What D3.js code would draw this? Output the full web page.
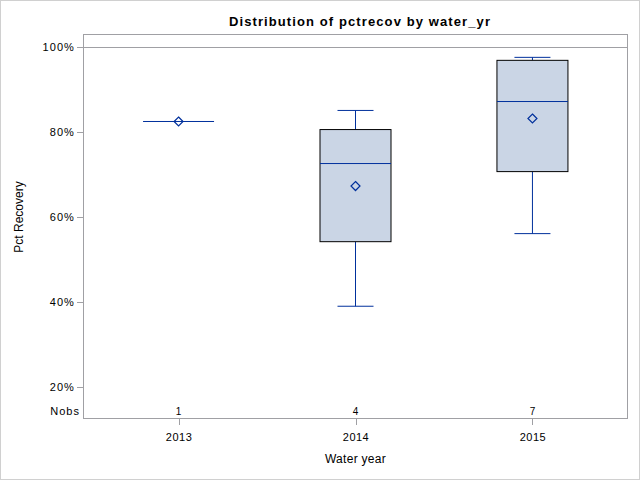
<!DOCTYPE html>
<html><head><meta charset="utf-8">
<script src="https://cdn.jsdelivr.net/npm/d3@7"></script>
<style>body{margin:0;background:#fff}svg{display:block;font-family:"Liberation Sans",Arial,sans-serif}</style>
</head><body>
<svg id="c" width="640" height="480"></svg>
<script>
const categories = ["2013","2014","2015"];
const nobs = [1,4,7];
const whiskerLow = [82.5,39.0,56.1];
const q1 = [82.5,54.2,70.7];
const median = [82.5,72.6,87.2];
const q3 = [82.5,80.6,96.9];
const whiskerHigh = [82.5,85.1,97.6];
const means = [82.5,67.3,83.2];
const yTicks = [20,40,60,80,100];
const refLine = 100;

const svg = d3.select("#c");
const W=640,H=480;
const L=83,R=628,T=34,B=419;
const blue="#00309C", fill="#CAD5E5", frame="#A0A0A4";

svg.append("rect").attr("x",0.5).attr("y",0.5).attr("width",W-1).attr("height",H-1)
  .attr("fill","#fff").attr("stroke","#D0D0D0");

const x = d3.scalePoint().domain(categories).range([L,R]).padding(0.54);
const y = d3.scaleLinear().domain([12.45,103.1]).range([B,T]);
const bw = 71, cw = 36;

// reference line
svg.append("line").attr("x1",L).attr("x2",R).attr("y1",y(refLine)).attr("y2",y(refLine))
  .attr("stroke",frame).attr("stroke-width",1).attr("shape-rendering","crispEdges");

// y axis
const ya = svg.append("g").attr("transform",`translate(${L},0)`)
  .call(d3.axisLeft(y).tickValues(yTicks).tickSize(6).tickPadding(2).tickFormat(d=>d+"%"));
ya.select(".domain").remove();
ya.selectAll("line").attr("stroke",frame).attr("shape-rendering","crispEdges");
ya.selectAll("text").attr("font-size",11).attr("fill","#000").attr("letter-spacing","1.1px")
  .attr("font-family","Liberation Sans, Arial, sans-serif");

// x axis
const xa = svg.append("g").attr("transform",`translate(0,${B})`)
  .call(d3.axisBottom(x).tickSize(6).tickPadding(8));
xa.select(".domain").remove();
xa.selectAll("line").attr("stroke",frame).attr("shape-rendering","crispEdges");
xa.selectAll("text").attr("font-size",11).attr("fill","#000").attr("letter-spacing","0.5px")
  .attr("font-family","Liberation Sans, Arial, sans-serif");

const g = svg.append("g");
categories.forEach((c,i)=>{
  const cx = x(c);
  if (nobs[i] > 1) {
    g.append("line").attr("x1",cx).attr("x2",cx).attr("y1",y(q3[i])).attr("y2",y(whiskerHigh[i])).attr("stroke",blue);
    g.append("line").attr("x1",cx).attr("x2",cx).attr("y1",y(q1[i])).attr("y2",y(whiskerLow[i])).attr("stroke",blue);
    g.append("line").attr("x1",cx-cw/2).attr("x2",cx+cw/2).attr("y1",y(whiskerHigh[i])).attr("y2",y(whiskerHigh[i])).attr("stroke",blue);
    g.append("line").attr("x1",cx-cw/2).attr("x2",cx+cw/2).attr("y1",y(whiskerLow[i])).attr("y2",y(whiskerLow[i])).attr("stroke",blue);
    g.append("rect").attr("x",cx-bw/2).attr("width",bw).attr("y",y(q3[i])).attr("height",y(q1[i])-y(q3[i]))
      .attr("fill",fill).attr("stroke","#000").attr("stroke-width",1);
  }
  g.append("line").attr("x1",cx-bw/2).attr("x2",cx+bw/2).attr("y1",y(median[i])).attr("y2",y(median[i])).attr("stroke",blue);
  const my=y(means[i]), s=4.5;
  g.append("path").attr("d",`M${cx},${my-s}L${cx+s},${my}L${cx},${my+s}L${cx-s},${my}Z`)
    .attr("fill","none").attr("stroke",blue).attr("stroke-width",1.2);
  g.append("text").attr("x",cx).attr("y",411).attr("dy","0.35em").attr("text-anchor","middle")
    .attr("font-size",10).text(nobs[i]);
});
svg.append("text").attr("x",80).attr("y",411).attr("dy","0.35em").attr("text-anchor","end")
  .attr("font-size",11).attr("letter-spacing","1px").text("Nobs");

// frame
svg.append("rect").attr("x",L+0.5).attr("y",T+0.5).attr("width",R-L-1).attr("height",B-T-1)
  .attr("fill","none").attr("stroke",frame).attr("stroke-width",1);

// titles
svg.append("text").attr("x",360).attr("y",21).attr("dy","0.35em").attr("text-anchor","middle")
  .attr("font-size",13).attr("font-weight","bold").attr("letter-spacing","1.1px").text("Distribution of pctrecov by water_yr");
svg.append("text").attr("x",(L+R)/2).attr("y",459).attr("dy","0.35em").attr("text-anchor","middle")
  .attr("font-size",12).attr("letter-spacing","0.3px").text("Water year");
svg.append("text").attr("transform","translate(19,217) rotate(-90)").attr("dy","0.35em").attr("text-anchor","middle")
  .attr("font-size",12).text("Pct Recovery");
</script>
</body></html>
